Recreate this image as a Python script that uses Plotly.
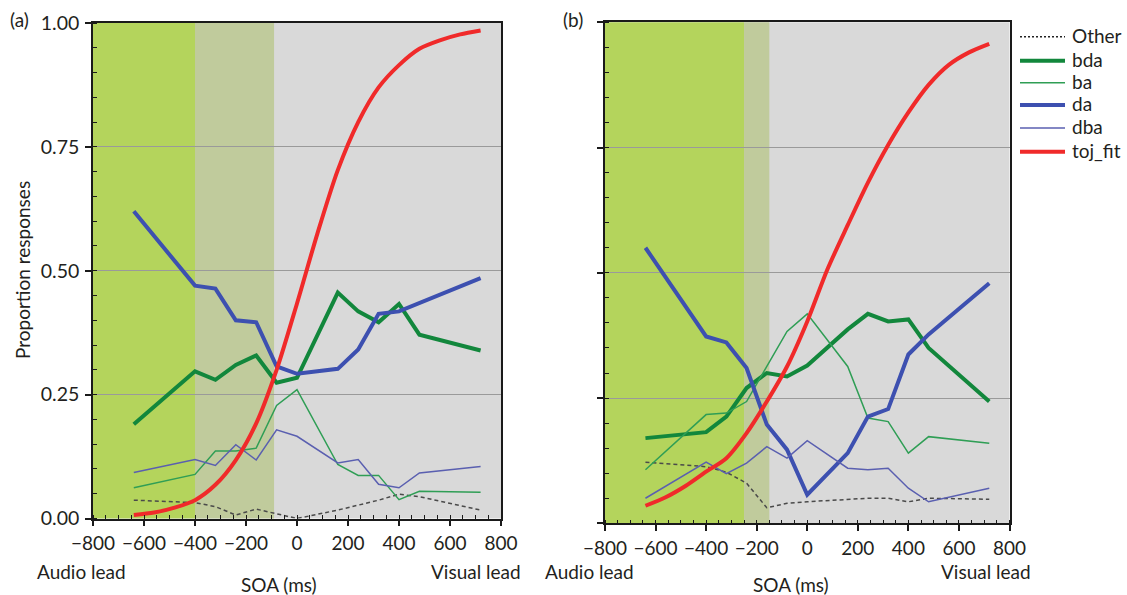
import plotly.graph_objects as go

# ---------------- data ----------------
soa = [-640, -400, -320, -240, -160, -80, 0, 160, 240, 320, 400, 480, 720]
fit_soa = [-640, -560, -480, -400, -320, -240, -160, -80, 0, 80, 160, 240, 320,
           400, 480, 560, 640, 720]

# panel (a)
other_a = [0.037, 0.032, 0.024, 0.007, 0.019, 0.009, 0.0, 0.017, 0.027, 0.037, 0.049, 0.044, 0.017]
bda_a = [0.190, 0.297, 0.280, 0.310, 0.329, 0.274, 0.284, 0.456, 0.418, 0.396, 0.433, 0.371, 0.339]
ba_a = [0.062, 0.089, 0.136, 0.136, 0.142, 0.228, 0.260, 0.109, 0.087, 0.087, 0.038, 0.055, 0.053]
da_a = [0.620, 0.470, 0.464, 0.400, 0.396, 0.307, 0.292, 0.302, 0.341, 0.413, 0.418, 0.435, 0.485]
dba_a = [0.093, 0.119, 0.107, 0.149, 0.118, 0.179, 0.166, 0.112, 0.119, 0.069, 0.062, 0.092, 0.105]
toj_a = [0.007, 0.012, 0.022, 0.037, 0.068, 0.118, 0.192, 0.300, 0.434, 0.575, 0.703,
         0.800, 0.870, 0.915, 0.948, 0.965, 0.977, 0.985]

# panel (b)
other_b = [0.122, 0.113, 0.102, 0.080, 0.031, 0.040, 0.043, 0.047, 0.050, 0.050, 0.043, 0.050, 0.048]
bda_b = [0.170, 0.182, 0.213, 0.270, 0.300, 0.293, 0.315, 0.387, 0.418, 0.403, 0.407, 0.350, 0.243]
ba_b = [0.107, 0.217, 0.220, 0.243, 0.313, 0.383, 0.418, 0.313, 0.210, 0.203, 0.140, 0.173, 0.160]
da_b = [0.550, 0.373, 0.361, 0.310, 0.197, 0.147, 0.057, 0.140, 0.213, 0.228, 0.337, 0.377, 0.479]
dba_b = [0.050, 0.122, 0.099, 0.120, 0.153, 0.130, 0.165, 0.110, 0.107, 0.110, 0.070, 0.043, 0.070]
toj_b = [0.035, 0.052, 0.075, 0.103, 0.130, 0.180, 0.243, 0.313, 0.403, 0.507, 0.595,
         0.680, 0.755, 0.820, 0.875, 0.915, 0.940, 0.957]

# shaded SOA windows: [start, bright-green end, olive end]
shade_a = [-800, -400, -90]
shade_b = [-800, -250, -150]

series_names = ["Other", "bda", "ba", "da", "dba", "toj_fit"]
x_ticks = [-800, -600, -400, -200, 0, 200, 400, 600, 800]
y_ticks = [0, 0.25, 0.5, 0.75, 1.0]

# ---------------- styles ----------------
FONT = "Lato, 'Open Sans', sans-serif"
TXT = "#231f20"
FS = 19
styles = {
    "Other": dict(color="#4a4a4a", width=1.5, dash="4px,3px"),
    "bda": dict(color="#12873c", width=4),
    "ba": dict(color="#2f9e55", width=1.5),
    "da": dict(color="#3d50b0", width=4),
    "dba": dict(color="#5a5fb0", width=1.5),
    "toj_fit": dict(color="#f02a2a", width=4),
}
legend_styles = dict(styles)
legend_styles["Other"] = dict(color="#222222", width=1.5, dash="2px,2px")
BRIGHT = "#b4d45c"
OLIVE = "#c0cb9c"
GRAY = "#d9d9d9"

W, H = 1127, 595
fig = go.Figure()

panels = [
    ("x", "y", [other_a, bda_a, ba_a, da_a, dba_a], toj_a),
    ("x2", "y2", [other_b, bda_b, ba_b, da_b, dba_b], toj_b),
]
for xa, ya, vals, toj in panels:
    for name, v in zip(series_names[:5], vals):
        fig.add_trace(go.Scatter(x=soa, y=v, mode="lines", name=name, line=styles[name],
                                 xaxis=xa, yaxis=ya, showlegend=False))
    fig.add_trace(go.Scatter(x=fit_soa, y=toj, mode="lines", name="toj_fit",
                             line=dict(**styles["toj_fit"], shape="spline", smoothing=0.8),
                             xaxis=xa, yaxis=ya, showlegend=False))

# background shading
for xref, yref, sh in [("x", "y domain", shade_a), ("x2", "y2 domain", shade_b)]:
    fig.add_shape(type="rect", xref=xref, yref=yref, x0=sh[0], x1=sh[1], y0=0, y1=1,
                  fillcolor=BRIGHT, line_width=0, layer="below")
    fig.add_shape(type="rect", xref=xref, yref=yref, x0=sh[1], x1=sh[2], y0=0, y1=1,
                  fillcolor=OLIVE, line_width=0, layer="below")


def px_x(p):
    return p / W


def px_y(p):
    return 1 - p / H


# legend (key) drawn at the right of panel (b)
legend_rows = [36.7, 60.7, 82.7, 105, 128, 151.7]
for name, ry in zip(series_names, legend_rows):
    fig.add_shape(type="line", xref="paper", yref="paper", x0=px_x(1020), x1=px_x(1065),
                  y0=px_y(ry), y1=px_y(ry), line=legend_styles[name])
    fig.add_annotation(text=name, x=px_x(1070), y=px_y(ry - 1.5), xref="paper", yref="paper",
                       xanchor="left", yanchor="middle", showarrow=False,
                       font=dict(size=FS, color=TXT, family=FONT))

common_x = dict(range=[-800, 800], tickvals=x_ticks, ticktext=[f"{t:d}".replace("-", "\u2212") for t in x_ticks],
                showgrid=False, zeroline=False, showline=True, linecolor="#1a1a1a", linewidth=1.5,
                mirror=True, ticks="outside", ticklen=6, tickwidth=1.5, tickcolor="#1a1a1a",
                minor=dict(dtick=50, ticks="inside", ticklen=4, tickwidth=1, tickcolor="#1a1a1a", showgrid=False),
                tickfont=dict(size=19, color=TXT, family=FONT), ticklabelstandoff=1,
                automargin=False, fixedrange=True)
common_y = dict(range=[0, 1], tickvals=y_ticks, tickformat=".2f",
                showgrid=True, gridcolor="#9a9a9a", gridwidth=1, zeroline=False,
                showline=True, linecolor="#1a1a1a", linewidth=1.5, mirror=True,
                ticks="outside", ticklen=6, tickwidth=1.5, tickcolor="#1a1a1a",
                minor=dict(dtick=0.05, ticks="inside", ticklen=4, tickwidth=1, tickcolor="#1a1a1a", showgrid=False),
                tickfont=dict(size=19.5, color=TXT, family=FONT), ticklabelstandoff=2,
                automargin=False, fixedrange=True)

fig.update_layout(
    width=W, height=H,
    margin=dict(l=0, r=0, t=0, b=0),
    paper_bgcolor="white", plot_bgcolor=GRAY,
    font=dict(family=FONT, size=FS, color=TXT),
    xaxis=dict(domain=[px_x(93), px_x(501)], anchor="y", **common_x),
    yaxis=dict(domain=[px_y(518.5), px_y(23)], anchor="x", **common_y),
    xaxis2=dict(domain=[px_x(605), px_x(1009.5)], anchor="y2", **common_x),
    yaxis2=dict(domain=[px_y(523.3), px_y(22.3)], anchor="x2", showticklabels=False, **common_y),
    showlegend=False,
)

annots = [
    ("(a)", 19, 20, 0),
    ("(b)", 573, 20, 0),
    ("Audio lead", 81, 571, 0),
    ("Visual lead", 476, 571, 0),
    ("SOA (ms)", 279, 584.5, 0),
    ("Audio lead", 589, 571, 0),
    ("Visual lead", 986, 571, 0),
    ("SOA (ms)", 791, 584.5, 0),
    ("Proportion responses", 23, 270, -90),
]
for text, ax, ay, ang in annots:
    fig.add_annotation(text=text, x=px_x(ax), y=px_y(ay), xref="paper", yref="paper",
                       xanchor="center", yanchor="middle", showarrow=False, textangle=ang,
                       font=dict(size=FS, color=TXT, family=FONT))

fig.write_html("out.html", config={"displayModeBar": False},
               post_script="document.body.style.margin='0px';document.body.style.overflow='hidden';")
